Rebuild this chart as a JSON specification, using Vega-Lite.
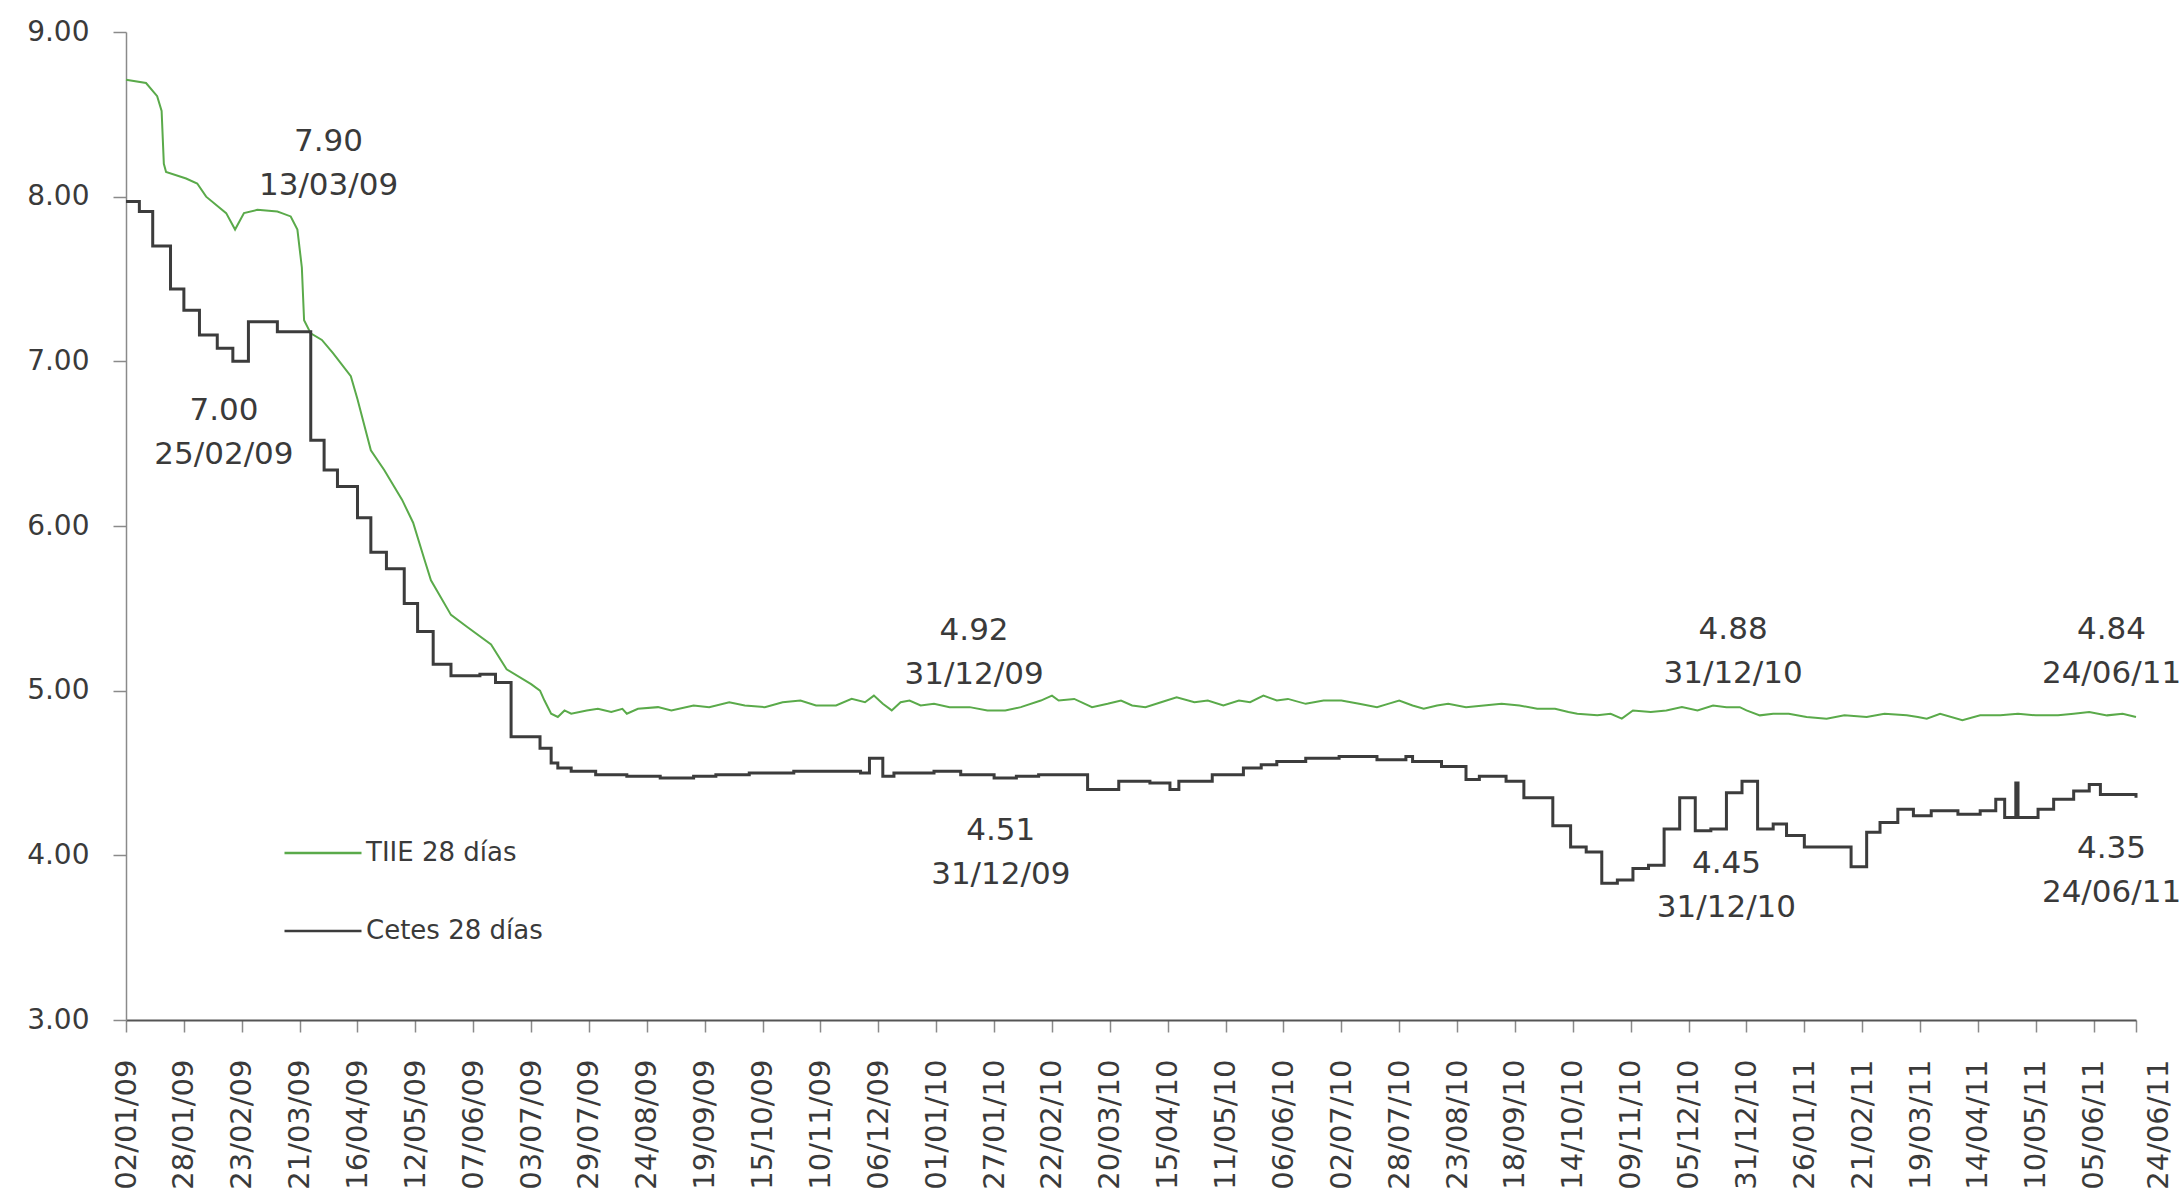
{
  "$schema": "https://vega.github.io/schema/vega-lite/v6.json",
  "width": 2010,
  "height": 988,
  "autosize": {"type": "none"},
  "padding": {"left": 126, "top": 32, "right": 46, "bottom": 179},
  "background": "white",
  "datasets": {
    "tiie": [
      {"series":"TIIE 28 días","date":"2009-01-02","value":8.71},
      {"series":"TIIE 28 días","date":"2009-01-11","value":8.69},
      {"series":"TIIE 28 días","date":"2009-01-16","value":8.61},
      {"series":"TIIE 28 días","date":"2009-01-18","value":8.52},
      {"series":"TIIE 28 días","date":"2009-01-19","value":8.20},
      {"series":"TIIE 28 días","date":"2009-01-20","value":8.15},
      {"series":"TIIE 28 días","date":"2009-01-29","value":8.11},
      {"series":"TIIE 28 días","date":"2009-02-03","value":8.08},
      {"series":"TIIE 28 días","date":"2009-02-07","value":8.00},
      {"series":"TIIE 28 días","date":"2009-02-16","value":7.90},
      {"series":"TIIE 28 días","date":"2009-02-20","value":7.80},
      {"series":"TIIE 28 días","date":"2009-02-24","value":7.90},
      {"series":"TIIE 28 días","date":"2009-03-02","value":7.92},
      {"series":"TIIE 28 días","date":"2009-03-11","value":7.91},
      {"series":"TIIE 28 días","date":"2009-03-13","value":7.90},
      {"series":"TIIE 28 días","date":"2009-03-17","value":7.88},
      {"series":"TIIE 28 días","date":"2009-03-20","value":7.80},
      {"series":"TIIE 28 días","date":"2009-03-22","value":7.57},
      {"series":"TIIE 28 días","date":"2009-03-23","value":7.25},
      {"series":"TIIE 28 días","date":"2009-03-26","value":7.17},
      {"series":"TIIE 28 días","date":"2009-03-31","value":7.13},
      {"series":"TIIE 28 días","date":"2009-04-05","value":7.05},
      {"series":"TIIE 28 días","date":"2009-04-13","value":6.91},
      {"series":"TIIE 28 días","date":"2009-04-16","value":6.77},
      {"series":"TIIE 28 días","date":"2009-04-22","value":6.46},
      {"series":"TIIE 28 días","date":"2009-04-28","value":6.34},
      {"series":"TIIE 28 días","date":"2009-05-06","value":6.16},
      {"series":"TIIE 28 días","date":"2009-05-11","value":6.02},
      {"series":"TIIE 28 días","date":"2009-05-16","value":5.80},
      {"series":"TIIE 28 días","date":"2009-05-19","value":5.67},
      {"series":"TIIE 28 días","date":"2009-05-28","value":5.46},
      {"series":"TIIE 28 días","date":"2009-06-04","value":5.39},
      {"series":"TIIE 28 días","date":"2009-06-15","value":5.28},
      {"series":"TIIE 28 días","date":"2009-06-22","value":5.13},
      {"series":"TIIE 28 días","date":"2009-07-03","value":5.04},
      {"series":"TIIE 28 días","date":"2009-07-07","value":5.00},
      {"series":"TIIE 28 días","date":"2009-07-09","value":4.94},
      {"series":"TIIE 28 días","date":"2009-07-12","value":4.86},
      {"series":"TIIE 28 días","date":"2009-07-15","value":4.84},
      {"series":"TIIE 28 días","date":"2009-07-18","value":4.88},
      {"series":"TIIE 28 días","date":"2009-07-21","value":4.86},
      {"series":"TIIE 28 días","date":"2009-07-28","value":4.88},
      {"series":"TIIE 28 días","date":"2009-08-02","value":4.89},
      {"series":"TIIE 28 días","date":"2009-08-08","value":4.87},
      {"series":"TIIE 28 días","date":"2009-08-13","value":4.89},
      {"series":"TIIE 28 días","date":"2009-08-15","value":4.86},
      {"series":"TIIE 28 días","date":"2009-08-20","value":4.89},
      {"series":"TIIE 28 días","date":"2009-08-29","value":4.90},
      {"series":"TIIE 28 días","date":"2009-09-04","value":4.88},
      {"series":"TIIE 28 días","date":"2009-09-14","value":4.91},
      {"series":"TIIE 28 días","date":"2009-09-21","value":4.90},
      {"series":"TIIE 28 días","date":"2009-09-30","value":4.93},
      {"series":"TIIE 28 días","date":"2009-10-07","value":4.91},
      {"series":"TIIE 28 días","date":"2009-10-16","value":4.90},
      {"series":"TIIE 28 días","date":"2009-10-24","value":4.93},
      {"series":"TIIE 28 días","date":"2009-11-01","value":4.94},
      {"series":"TIIE 28 días","date":"2009-11-08","value":4.91},
      {"series":"TIIE 28 días","date":"2009-11-17","value":4.91},
      {"series":"TIIE 28 días","date":"2009-11-24","value":4.95},
      {"series":"TIIE 28 días","date":"2009-11-30","value":4.93},
      {"series":"TIIE 28 días","date":"2009-12-04","value":4.97},
      {"series":"TIIE 28 días","date":"2009-12-08","value":4.92},
      {"series":"TIIE 28 días","date":"2009-12-12","value":4.88},
      {"series":"TIIE 28 días","date":"2009-12-16","value":4.93},
      {"series":"TIIE 28 días","date":"2009-12-20","value":4.94},
      {"series":"TIIE 28 días","date":"2009-12-25","value":4.91},
      {"series":"TIIE 28 días","date":"2009-12-31","value":4.92},
      {"series":"TIIE 28 días","date":"2010-01-07","value":4.90},
      {"series":"TIIE 28 días","date":"2010-01-16","value":4.90},
      {"series":"TIIE 28 días","date":"2010-01-24","value":4.88},
      {"series":"TIIE 28 días","date":"2010-02-01","value":4.88},
      {"series":"TIIE 28 días","date":"2010-02-08","value":4.90},
      {"series":"TIIE 28 días","date":"2010-02-17","value":4.94},
      {"series":"TIIE 28 días","date":"2010-02-22","value":4.97},
      {"series":"TIIE 28 días","date":"2010-02-25","value":4.94},
      {"series":"TIIE 28 días","date":"2010-03-04","value":4.95},
      {"series":"TIIE 28 días","date":"2010-03-12","value":4.90},
      {"series":"TIIE 28 días","date":"2010-03-19","value":4.92},
      {"series":"TIIE 28 días","date":"2010-03-25","value":4.94},
      {"series":"TIIE 28 días","date":"2010-03-30","value":4.91},
      {"series":"TIIE 28 días","date":"2010-04-05","value":4.90},
      {"series":"TIIE 28 días","date":"2010-04-12","value":4.93},
      {"series":"TIIE 28 días","date":"2010-04-19","value":4.96},
      {"series":"TIIE 28 días","date":"2010-04-27","value":4.93},
      {"series":"TIIE 28 días","date":"2010-05-03","value":4.94},
      {"series":"TIIE 28 días","date":"2010-05-10","value":4.91},
      {"series":"TIIE 28 días","date":"2010-05-17","value":4.94},
      {"series":"TIIE 28 días","date":"2010-05-22","value":4.93},
      {"series":"TIIE 28 días","date":"2010-05-28","value":4.97},
      {"series":"TIIE 28 días","date":"2010-06-03","value":4.94},
      {"series":"TIIE 28 días","date":"2010-06-08","value":4.95},
      {"series":"TIIE 28 días","date":"2010-06-16","value":4.92},
      {"series":"TIIE 28 días","date":"2010-06-24","value":4.94},
      {"series":"TIIE 28 días","date":"2010-07-02","value":4.94},
      {"series":"TIIE 28 días","date":"2010-07-10","value":4.92},
      {"series":"TIIE 28 días","date":"2010-07-18","value":4.90},
      {"series":"TIIE 28 días","date":"2010-07-23","value":4.92},
      {"series":"TIIE 28 días","date":"2010-07-28","value":4.94},
      {"series":"TIIE 28 días","date":"2010-08-03","value":4.91},
      {"series":"TIIE 28 días","date":"2010-08-08","value":4.89},
      {"series":"TIIE 28 días","date":"2010-08-14","value":4.91},
      {"series":"TIIE 28 días","date":"2010-08-19","value":4.92},
      {"series":"TIIE 28 días","date":"2010-08-27","value":4.90},
      {"series":"TIIE 28 días","date":"2010-09-04","value":4.91},
      {"series":"TIIE 28 días","date":"2010-09-12","value":4.92},
      {"series":"TIIE 28 días","date":"2010-09-20","value":4.91},
      {"series":"TIIE 28 días","date":"2010-09-28","value":4.89},
      {"series":"TIIE 28 días","date":"2010-10-06","value":4.89},
      {"series":"TIIE 28 días","date":"2010-10-12","value":4.87},
      {"series":"TIIE 28 días","date":"2010-10-16","value":4.86},
      {"series":"TIIE 28 días","date":"2010-10-25","value":4.85},
      {"series":"TIIE 28 días","date":"2010-10-31","value":4.86},
      {"series":"TIIE 28 días","date":"2010-11-05","value":4.83},
      {"series":"TIIE 28 días","date":"2010-11-10","value":4.88},
      {"series":"TIIE 28 días","date":"2010-11-18","value":4.87},
      {"series":"TIIE 28 días","date":"2010-11-25","value":4.88},
      {"series":"TIIE 28 días","date":"2010-12-02","value":4.90},
      {"series":"TIIE 28 días","date":"2010-12-09","value":4.88},
      {"series":"TIIE 28 días","date":"2010-12-16","value":4.91},
      {"series":"TIIE 28 días","date":"2010-12-22","value":4.90},
      {"series":"TIIE 28 días","date":"2010-12-28","value":4.90},
      {"series":"TIIE 28 días","date":"2010-12-31","value":4.88},
      {"series":"TIIE 28 días","date":"2011-01-06","value":4.85},
      {"series":"TIIE 28 días","date":"2011-01-12","value":4.86},
      {"series":"TIIE 28 días","date":"2011-01-19","value":4.86},
      {"series":"TIIE 28 días","date":"2011-01-27","value":4.84},
      {"series":"TIIE 28 días","date":"2011-02-05","value":4.83},
      {"series":"TIIE 28 días","date":"2011-02-13","value":4.85},
      {"series":"TIIE 28 días","date":"2011-02-23","value":4.84},
      {"series":"TIIE 28 días","date":"2011-03-03","value":4.86},
      {"series":"TIIE 28 días","date":"2011-03-13","value":4.85},
      {"series":"TIIE 28 días","date":"2011-03-18","value":4.84},
      {"series":"TIIE 28 días","date":"2011-03-22","value":4.83},
      {"series":"TIIE 28 días","date":"2011-03-28","value":4.86},
      {"series":"TIIE 28 días","date":"2011-04-07","value":4.82},
      {"series":"TIIE 28 días","date":"2011-04-15","value":4.85},
      {"series":"TIIE 28 días","date":"2011-04-24","value":4.85},
      {"series":"TIIE 28 días","date":"2011-05-02","value":4.86},
      {"series":"TIIE 28 días","date":"2011-05-10","value":4.85},
      {"series":"TIIE 28 días","date":"2011-05-20","value":4.85},
      {"series":"TIIE 28 días","date":"2011-05-27","value":4.86},
      {"series":"TIIE 28 días","date":"2011-06-03","value":4.87},
      {"series":"TIIE 28 días","date":"2011-06-11","value":4.85},
      {"series":"TIIE 28 días","date":"2011-06-18","value":4.86},
      {"series":"TIIE 28 días","date":"2011-06-24","value":4.84}
    ],
    "cetes": [
      {"series":"Cetes 28 días","date":"2009-01-02","value":7.97},
      {"series":"Cetes 28 días","date":"2009-01-08","value":7.91},
      {"series":"Cetes 28 días","date":"2009-01-14","value":7.70},
      {"series":"Cetes 28 días","date":"2009-01-22","value":7.44},
      {"series":"Cetes 28 días","date":"2009-01-28","value":7.31},
      {"series":"Cetes 28 días","date":"2009-02-04","value":7.16},
      {"series":"Cetes 28 días","date":"2009-02-12","value":7.08},
      {"series":"Cetes 28 días","date":"2009-02-19","value":7.00},
      {"series":"Cetes 28 días","date":"2009-02-26","value":7.24},
      {"series":"Cetes 28 días","date":"2009-03-11","value":7.18},
      {"series":"Cetes 28 días","date":"2009-03-26","value":6.52},
      {"series":"Cetes 28 días","date":"2009-04-01","value":6.34},
      {"series":"Cetes 28 días","date":"2009-04-07","value":6.24},
      {"series":"Cetes 28 días","date":"2009-04-16","value":6.05},
      {"series":"Cetes 28 días","date":"2009-04-22","value":5.84},
      {"series":"Cetes 28 días","date":"2009-04-29","value":5.74},
      {"series":"Cetes 28 días","date":"2009-05-07","value":5.53},
      {"series":"Cetes 28 días","date":"2009-05-13","value":5.36},
      {"series":"Cetes 28 días","date":"2009-05-20","value":5.16},
      {"series":"Cetes 28 días","date":"2009-05-28","value":5.09},
      {"series":"Cetes 28 días","date":"2009-06-10","value":5.10},
      {"series":"Cetes 28 días","date":"2009-06-17","value":5.05},
      {"series":"Cetes 28 días","date":"2009-06-24","value":4.72},
      {"series":"Cetes 28 días","date":"2009-07-07","value":4.65},
      {"series":"Cetes 28 días","date":"2009-07-12","value":4.56},
      {"series":"Cetes 28 días","date":"2009-07-15","value":4.53},
      {"series":"Cetes 28 días","date":"2009-07-21","value":4.51},
      {"series":"Cetes 28 días","date":"2009-08-01","value":4.49},
      {"series":"Cetes 28 días","date":"2009-08-15","value":4.48},
      {"series":"Cetes 28 días","date":"2009-08-30","value":4.47},
      {"series":"Cetes 28 días","date":"2009-09-14","value":4.48},
      {"series":"Cetes 28 días","date":"2009-09-24","value":4.49},
      {"series":"Cetes 28 días","date":"2009-10-09","value":4.50},
      {"series":"Cetes 28 días","date":"2009-10-29","value":4.51},
      {"series":"Cetes 28 días","date":"2009-11-18","value":4.51},
      {"series":"Cetes 28 días","date":"2009-11-28","value":4.50},
      {"series":"Cetes 28 días","date":"2009-12-02","value":4.59},
      {"series":"Cetes 28 días","date":"2009-12-08","value":4.48},
      {"series":"Cetes 28 días","date":"2009-12-13","value":4.50},
      {"series":"Cetes 28 días","date":"2009-12-31","value":4.51},
      {"series":"Cetes 28 días","date":"2010-01-12","value":4.49},
      {"series":"Cetes 28 días","date":"2010-01-27","value":4.47},
      {"series":"Cetes 28 días","date":"2010-02-06","value":4.48},
      {"series":"Cetes 28 días","date":"2010-02-16","value":4.49},
      {"series":"Cetes 28 días","date":"2010-03-10","value":4.40},
      {"series":"Cetes 28 días","date":"2010-03-24","value":4.45},
      {"series":"Cetes 28 días","date":"2010-04-07","value":4.44},
      {"series":"Cetes 28 días","date":"2010-04-16","value":4.40},
      {"series":"Cetes 28 días","date":"2010-04-20","value":4.45},
      {"series":"Cetes 28 días","date":"2010-05-05","value":4.49},
      {"series":"Cetes 28 días","date":"2010-05-19","value":4.53},
      {"series":"Cetes 28 días","date":"2010-05-27","value":4.55},
      {"series":"Cetes 28 días","date":"2010-06-03","value":4.57},
      {"series":"Cetes 28 días","date":"2010-06-16","value":4.59},
      {"series":"Cetes 28 días","date":"2010-07-01","value":4.60},
      {"series":"Cetes 28 días","date":"2010-07-18","value":4.58},
      {"series":"Cetes 28 días","date":"2010-07-31","value":4.60},
      {"series":"Cetes 28 días","date":"2010-08-03","value":4.57},
      {"series":"Cetes 28 días","date":"2010-08-16","value":4.54},
      {"series":"Cetes 28 días","date":"2010-08-27","value":4.46},
      {"series":"Cetes 28 días","date":"2010-09-02","value":4.48},
      {"series":"Cetes 28 días","date":"2010-09-14","value":4.45},
      {"series":"Cetes 28 días","date":"2010-09-22","value":4.35},
      {"series":"Cetes 28 días","date":"2010-10-05","value":4.18},
      {"series":"Cetes 28 días","date":"2010-10-13","value":4.05},
      {"series":"Cetes 28 días","date":"2010-10-20","value":4.02},
      {"series":"Cetes 28 días","date":"2010-10-27","value":3.83},
      {"series":"Cetes 28 días","date":"2010-11-03","value":3.85},
      {"series":"Cetes 28 días","date":"2010-11-10","value":3.92},
      {"series":"Cetes 28 días","date":"2010-11-17","value":3.94},
      {"series":"Cetes 28 días","date":"2010-11-24","value":4.16},
      {"series":"Cetes 28 días","date":"2010-12-01","value":4.35},
      {"series":"Cetes 28 días","date":"2010-12-08","value":4.15},
      {"series":"Cetes 28 días","date":"2010-12-15","value":4.16},
      {"series":"Cetes 28 días","date":"2010-12-22","value":4.38},
      {"series":"Cetes 28 días","date":"2010-12-29","value":4.45},
      {"series":"Cetes 28 días","date":"2011-01-05","value":4.16},
      {"series":"Cetes 28 días","date":"2011-01-12","value":4.19},
      {"series":"Cetes 28 días","date":"2011-01-18","value":4.12},
      {"series":"Cetes 28 días","date":"2011-01-26","value":4.05},
      {"series":"Cetes 28 días","date":"2011-02-16","value":3.93},
      {"series":"Cetes 28 días","date":"2011-02-23","value":4.14},
      {"series":"Cetes 28 días","date":"2011-03-01","value":4.20},
      {"series":"Cetes 28 días","date":"2011-03-09","value":4.28},
      {"series":"Cetes 28 días","date":"2011-03-16","value":4.24},
      {"series":"Cetes 28 días","date":"2011-03-24","value":4.27},
      {"series":"Cetes 28 días","date":"2011-04-05","value":4.25},
      {"series":"Cetes 28 días","date":"2011-04-15","value":4.27},
      {"series":"Cetes 28 días","date":"2011-04-22","value":4.34},
      {"series":"Cetes 28 días","date":"2011-04-26","value":4.23},
      {"series":"Cetes 28 días","date":"2011-05-01","value":4.44},
      {"series":"Cetes 28 días","date":"2011-05-02","value":4.23},
      {"series":"Cetes 28 días","date":"2011-05-11","value":4.28},
      {"series":"Cetes 28 días","date":"2011-05-18","value":4.34},
      {"series":"Cetes 28 días","date":"2011-05-27","value":4.39},
      {"series":"Cetes 28 días","date":"2011-06-03","value":4.43},
      {"series":"Cetes 28 días","date":"2011-06-08","value":4.37},
      {"series":"Cetes 28 días","date":"2011-06-24","value":4.35}
    ],
    "notes": [
      {"date":"2009-04-03","value":8.33,"label":"7.90\n13/03/09"},
      {"date":"2009-02-15","value":6.70,"label":"7.00\n25/02/09"},
      {"date":"2010-01-18","value":5.36,"label":"4.92\n31/12/09"},
      {"date":"2010-01-30","value":4.15,"label":"4.51\n31/12/09"},
      {"date":"2010-12-25","value":5.37,"label":"4.88\n31/12/10"},
      {"date":"2010-12-22","value":3.95,"label":"4.45\n31/12/10"},
      {"date":"2011-06-13","value":5.37,"label":"4.84\n24/06/11"},
      {"date":"2011-06-13","value":4.04,"label":"4.35\n24/06/11"}
    ]
  },
  "encoding": {
    "x": {
      "field": "date",
      "type": "temporal",
      "scale": {
        "type": "utc",
        "domain": [
          {"year": 2009, "month": 1, "date": 2, "utc": true},
          {"year": 2011, "month": 6, "date": 24, "utc": true}
        ]
      },
      "axis": {
        "title": null,
        "grid": false,
        "labelExpr": "utcFormat(datum.value, '%d/%m/%y')",
        "labelAngle": 270,
        "labelFont": "DejaVu Sans",
        "labelFontSize": 29,
        "labelColor": "#3a3a3a",
        "labelPadding": 27,
        "labelOffset": {"condition": {"test": "datum.value > utc(2011, 5, 20)", "value": 22}, "value": 0},
        "labelOverlap": false,
        "labelFlush": false,
        "labelBound": false,
        "domainColor": "#555555",
        "domainWidth": 2,
        "tickColor": "#8a8a8a",
        "tickSize": 12,
        "tickWidth": 1.5,
        "values": [
          {"year":2009,"month":1,"date":2,"utc":true},
          {"year":2009,"month":1,"date":28,"utc":true},
          {"year":2009,"month":2,"date":23,"utc":true},
          {"year":2009,"month":3,"date":21,"utc":true},
          {"year":2009,"month":4,"date":16,"utc":true},
          {"year":2009,"month":5,"date":12,"utc":true},
          {"year":2009,"month":6,"date":7,"utc":true},
          {"year":2009,"month":7,"date":3,"utc":true},
          {"year":2009,"month":7,"date":29,"utc":true},
          {"year":2009,"month":8,"date":24,"utc":true},
          {"year":2009,"month":9,"date":19,"utc":true},
          {"year":2009,"month":10,"date":15,"utc":true},
          {"year":2009,"month":11,"date":10,"utc":true},
          {"year":2009,"month":12,"date":6,"utc":true},
          {"year":2010,"month":1,"date":1,"utc":true},
          {"year":2010,"month":1,"date":27,"utc":true},
          {"year":2010,"month":2,"date":22,"utc":true},
          {"year":2010,"month":3,"date":20,"utc":true},
          {"year":2010,"month":4,"date":15,"utc":true},
          {"year":2010,"month":5,"date":11,"utc":true},
          {"year":2010,"month":6,"date":6,"utc":true},
          {"year":2010,"month":7,"date":2,"utc":true},
          {"year":2010,"month":7,"date":28,"utc":true},
          {"year":2010,"month":8,"date":23,"utc":true},
          {"year":2010,"month":9,"date":18,"utc":true},
          {"year":2010,"month":10,"date":14,"utc":true},
          {"year":2010,"month":11,"date":9,"utc":true},
          {"year":2010,"month":12,"date":5,"utc":true},
          {"year":2010,"month":12,"date":31,"utc":true},
          {"year":2011,"month":1,"date":26,"utc":true},
          {"year":2011,"month":2,"date":21,"utc":true},
          {"year":2011,"month":3,"date":19,"utc":true},
          {"year":2011,"month":4,"date":14,"utc":true},
          {"year":2011,"month":5,"date":10,"utc":true},
          {"year":2011,"month":6,"date":5,"utc":true},
          {"year":2011,"month":6,"date":24,"utc":true}
        ]
      }
    },
    "y": {
      "field": "value",
      "type": "quantitative",
      "scale": {"domain": [3, 9], "nice": false, "zero": false},
      "axis": {
        "title": null,
        "grid": false,
        "values": [3, 4, 5, 6, 7, 8, 9],
        "format": ".2f",
        "labelFont": "DejaVu Sans",
        "labelFontSize": 28,
        "labelColor": "#3a3a3a",
        "labelPadding": 24,
        "domainColor": "#8a8a8a",
        "domainWidth": 1.5,
        "tickColor": "#8a8a8a",
        "tickSize": 13,
        "tickWidth": 1.5
      }
    }
  },
  "layer": [
    {
      "data": {"name": "tiie"},
      "mark": {"type": "line", "strokeWidth": 2, "interpolate": "linear"},
      "encoding": {
        "color": {
          "field": "series",
          "type": "nominal",
          "scale": {"domain": ["TIIE 28 días", "Cetes 28 días"], "range": ["#5aaa4a", "#3c3c3c"]},
          "legend": {
            "orient": "none",
            "legendX": 157,
            "legendY": 781,
            "direction": "vertical",
            "title": null,
            "symbolType": "stroke",
            "symbolSize": 5929,
            "symbolStrokeWidth": 2.5,
            "labelFont": "DejaVu Sans",
            "labelFontSize": 26,
            "labelColor": "#3a3a3a",
            "labelOffset": 3,
            "labelLimit": 400,
            "rowPadding": 25,
            "padding": 0
          }
        }
      }
    },
    {
      "data": {"name": "cetes"},
      "mark": {"type": "line", "strokeWidth": 3, "interpolate": "step-after"},
      "encoding": {
        "color": {"field": "series", "type": "nominal"}
      }
    },
    {
      "data": {"name": "notes"},
      "mark": {
        "type": "text",
        "font": "DejaVu Sans",
        "fontSize": 31,
        "lineBreak": "\n",
        "lineHeight": 44,
        "align": "center",
        "baseline": "middle",
        "color": "#3a3a3a"
      },
      "encoding": {
        "text": {"field": "label", "type": "nominal"}
      }
    }
  ],
  "config": {
    "view": {"stroke": null},
    "font": "DejaVu Sans"
  }
}
